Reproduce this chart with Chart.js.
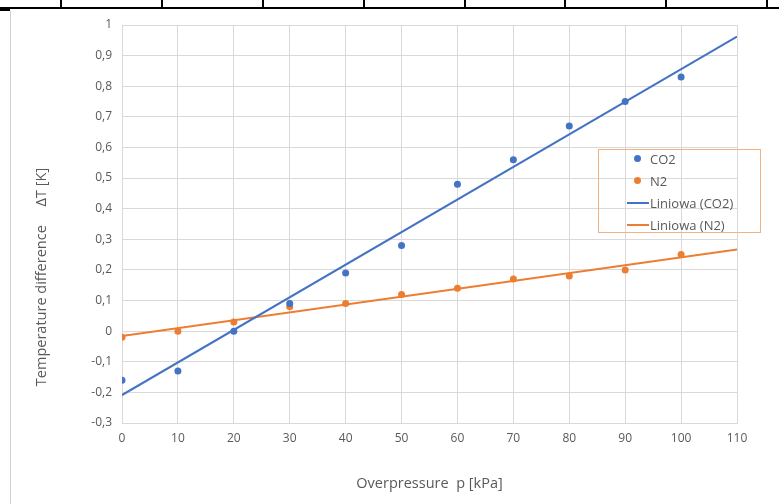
<!DOCTYPE html>
<html>
<head>
<meta charset="utf-8">
<script src="https://cdn.jsdelivr.net/npm/chart.js@4/dist/chart.umd.min.js"></script>
<style>
  html, body { margin: 0; padding: 0; background: #fff; }
  #wrap { position: relative; width: 779px; height: 504px; overflow: hidden; }
  #topline { position: absolute; left: 0; top: 7px; width: 779px; height: 2px; background: #000; }
  .tk { position: absolute; top: 0; width: 2px; height: 8px; background: #000; }
  #corner { position: absolute; left: 0; top: 9px; width: 10px; height: 2px; background: #000; }
  #leftline { position: absolute; left: 10px; top: 11px; width: 1px; height: 493px; background: #d0d0d0; }
  #c { position: absolute; left: 0; top: 0; }
  #legend { position: absolute; left: 598px; top: 149px; width: 163px; height: 84px; border: 1px solid #f4b183; box-sizing: border-box; font-family: "Open Sans", sans-serif; font-size: 13px; color: #595959; }
  .row { position: absolute; left: 0; height: 20px; line-height: 20px; white-space: nowrap; }
  .dot { position: absolute; top: 6px; width: 7px; height: 7px; border-radius: 50%; }
  .ln { position: absolute; top: 9px; width: 22px; height: 2px; }
  .txt { position: absolute; left: 51px; }
</style>
</head>
<body>
<div id="wrap">
  <canvas id="c" width="779" height="504"></canvas>
  <div id="topline"></div>
  <div class="tk" style="left:60px"></div>
  <div class="tk" style="left:161px"></div>
  <div class="tk" style="left:262px"></div>
  <div class="tk" style="left:363px"></div>
  <div class="tk" style="left:464px"></div>
  <div class="tk" style="left:564px"></div>
  <div class="tk" style="left:665px"></div>
  <div class="tk" style="left:766px"></div>
  <div id="corner"></div>
  <div id="leftline"></div>
  <div id="legend">
    <div class="row" style="top:-1px"><span class="dot" style="left:35px;background:#4472c4"></span><span class="txt">CO2</span></div>
    <div class="row" style="top:21px"><span class="dot" style="left:35px;background:#ed7d31"></span><span class="txt">N2</span></div>
    <div class="row" style="top:43px"><span class="ln" style="left:28px;background:#4472c4"></span><span class="txt">Liniowa (CO2)</span></div>
    <div class="row" style="top:65px"><span class="ln" style="left:28px;background:#ed7d31"></span><span class="txt">Liniowa (N2)</span></div>
  </div>
</div>
<script>
// Data
const pressure = [0, 10, 20, 30, 40, 50, 60, 70, 80, 90, 100];
const co2 = [-0.16, -0.13, 0.00, 0.09, 0.19, 0.28, 0.48, 0.56, 0.67, 0.75, 0.83];
const n2  = [-0.02, 0.00, 0.03, 0.08, 0.09, 0.12, 0.14, 0.17, 0.18, 0.20, 0.25];
const trendRange = [0, 110];
const xTitle = 'Overpressure  p [kPa]';
const yTitle = 'Temperature difference     \u0394T [K]';

// Least-squares linear trendline (as the spreadsheet's "Liniowa" trendline)
function linFit(xs, ys) {
  const n = xs.length;
  const mx = xs.reduce((a, b) => a + b, 0) / n;
  const my = ys.reduce((a, b) => a + b, 0) / n;
  let sxy = 0, sxx = 0;
  for (let i = 0; i < n; i++) { sxy += (xs[i] - mx) * (ys[i] - my); sxx += (xs[i] - mx) ** 2; }
  const k = sxy / sxx, b = my - k * mx;
  return trendRange.map(x => ({ x: x, y: k * x + b }));
}
const pts = ys => pressure.map((x, i) => ({ x: x, y: ys[i] }));

const BLUE = '#4472c4', ORANGE = '#ed7d31';
const FONT = '"Open Sans", sans-serif';
const fmt = v => {
  const r = Math.round(v * 10) / 10;
  return String(r).replace('.', ',');
};

// y-axis title, centred on the whole chart height like the spreadsheet
const yTitlePlugin = {
  id: 'yTitle',
  afterDraw(chart) {
    const ctx = chart.ctx;
    ctx.save();
    ctx.translate(42, 277);
    ctx.rotate(-Math.PI / 2);
    ctx.font = '14.5px ' + FONT;
    ctx.fillStyle = '#595959';
    ctx.textAlign = 'center';
    ctx.textBaseline = 'middle';
    ctx.fillText(yTitle, 0, 0);
    ctx.restore();
  }
};

new Chart(document.getElementById('c'), {
  type: 'scatter',
  data: {
    datasets: [
      { label: 'Liniowa (CO2)', data: linFit(pressure, co2), type: 'line', borderColor: BLUE, borderWidth: 2, pointRadius: 0, fill: false, order: 2 },
      { label: 'Liniowa (N2)', data: linFit(pressure, n2), type: 'line', borderColor: ORANGE, borderWidth: 2, pointRadius: 0, fill: false, order: 2 },
      { label: 'CO2', data: pts(co2), backgroundColor: BLUE, borderColor: BLUE, pointRadius: 3.5, borderWidth: 0, order: 1 },
      { label: 'N2', data: pts(n2), backgroundColor: ORANGE, borderColor: ORANGE, pointRadius: 3.5, borderWidth: 0, order: 1 }
    ]
  },
  plugins: [yTitlePlugin],
  options: {
    responsive: false,
    animation: false,
    layout: { padding: { left: 0, top: 25, right: 42, bottom: 0 } },
    plugins: { legend: { display: false }, tooltip: { enabled: false } },
    scales: {
      x: {
        type: 'linear', min: 0, max: 110,
        ticks: { stepSize: 10, color: '#595959', font: { family: FONT, size: 12 }, padding: 8 },
        grid: { color: '#d9d9d9', drawTicks: false },
        border: { color: '#d9d9d9' },
        title: { display: true, text: xTitle, color: '#595959', font: { family: FONT, size: 14.5 }, padding: { top: 0, bottom: 11 } },
        afterFit: s => { s.height = 81; }
      },
      y: {
        min: -0.3, max: 1,
        ticks: { stepSize: 0.1, color: '#595959', font: { family: FONT, size: 12 }, padding: 10, callback: v => fmt(v) },
        grid: { color: '#d9d9d9', drawTicks: false },
        border: { color: '#d9d9d9' },
        title: { display: false },
        afterFit: s => { s.width = 122; }
      }
    }
  }
});
</script>
</body>
</html>
